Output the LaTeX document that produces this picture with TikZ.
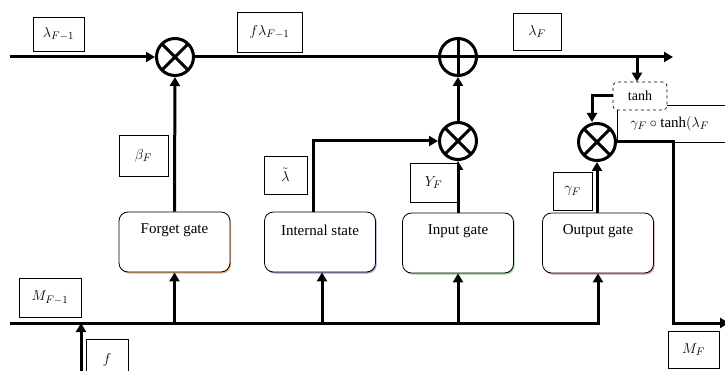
\documentclass[tikz,border=0pt]{standalone}
\usepackage{fontspec}
\setmainfont{Liberation Serif}
\usetikzlibrary{arrows.meta,shadows}
\begin{document}
\begin{tikzpicture}[x=1pt,y=-1pt,
  flow/.style={line width=3pt},
  arr/.style={flow,-{Triangle[length=9pt,width=10pt]}},
  op/.style={circle,draw,fill=white,line width=3pt,minimum size=37pt,inner sep=0pt},
  mult/.style={op,path picture={\draw[line width=3pt]
     (path picture bounding box.north west) -- (path picture bounding box.south east)
     (path picture bounding box.north east) -- (path picture bounding box.south west);}},
  addop/.style={op,path picture={\draw[line width=3pt]
     (path picture bounding box.north) -- (path picture bounding box.south)
     (path picture bounding box.west) -- (path picture bounding box.east);}},
  lbl/.style={draw,line width=0.7pt,fill=white,inner sep=0pt,font=\fontsize{15}{17}\selectfont},
  gate/.style={draw,line width=0.8pt,fill=white,rounded corners=9pt,minimum width=111pt,minimum height=60pt,inner sep=0pt},
  gatetext/.style={font=\fontsize{15}{17}\selectfont,inner sep=1pt},
  gshadow/.style={drop shadow={shadow xshift=1.2pt,shadow yshift=-1.5pt,fill=#1,opacity=0.6}},
]
\useasboundingbox (0,0) rectangle (725,371);
\clip (0,0) rectangle (725,371);

% operators on the memory path
\node[mult]  (mul1) at (175,57) {};
\node[addop] (plus) at (458,57) {};
\node[mult]  (mul2) at (458,141) {};

% output product with tanh and its label box
\node[lbl,anchor=north west,minimum width=130pt,minimum height=37pt,text width=104pt,align=left,inner xsep=13pt] (gbox) at (617,105) {$\gamma_F\circ\tanh(\lambda_F$};
\node[lbl,dashed,rounded corners=4pt,minimum width=54pt,minimum height=28pt,font=\fontsize{14}{16}\selectfont] (tanh) at (640,96) {tanh};
\node[mult] (mul3) at (597,142) {};

% gates
\node[gate,gshadow=orange!70!brown] (fg) at (174.5,242) {};
\node[gate,gshadow=blue!40!gray] (is) at (320,242) {};
\node[gate,gshadow=green!40!gray] (ig) at (458,243) {};
\node[gate,gshadow=red!40!gray] (og) at (598,243) {};
\node[gatetext] (fgt) at ([yshift=12pt]fg.center) {Forget gate};
\node[gatetext] (ist) at ([yshift=12pt]is.center) {Internal state};
\node[gatetext] (igt) at ([yshift=12pt]ig.center) {Input gate};
\node[gatetext] (ogt) at ([yshift=12pt]og.center) {Output gate};

% end points of the main lines
\coordinate (inL) at (10,57);
\coordinate (outT) at (673,57);
\coordinate (brT) at (637,57);
\coordinate (bl) at (10,323);
\coordinate (oc) at (673,323);
\coordinate (outM) at (729,323);
\coordinate (fin) at (81,371);
\coordinate (fj) at (81,323);

% memory line
\draw[arr] (inL) -- (mul1);
\draw[flow] (mul1) -- (plus);
\draw[arr] (plus) -- (outT);
\draw[arr] (brT) -- (brT |- tanh.north);
\draw[arr] (tanh.west) -| ([xshift=-5pt]mul3.north);
\draw[arr] (mul2) -- (plus);

% hidden line and gate inputs
\draw[arr] (bl) -| (og.south);
\draw[arr] (fg.south |- bl) -- (fg.south);
\draw[arr] ([xshift=2pt]is.south |- bl) -- ([xshift=2pt]is.south);
\draw[arr] (ig.south |- bl) -- (ig.south);
\draw[arr] (fin) -- (fj);

% gate outputs
\draw[arr] (fg.north) -- (mul1);
\draw[arr] ([xshift=-7pt]is.north) |- (mul2);
\draw[arr] (ig.north) -- (mul2);
\draw[arr] (og.north -| mul3) -- (mul3);
\draw[arr] (mul3.east) -| (oc) -- (outM);

% signal labels
\node[lbl,minimum width=51pt,minimum height=34pt] (l1) at (58.5,34) {$\lambda_{F-1}$};
\node[lbl,minimum width=65pt,minimum height=40pt] (l2) at (269.5,32) {$f\lambda_{F-1}$};
\node[lbl,minimum width=48pt,minimum height=37pt] (l3) at (537,31.5) {$\lambda_F$};
\node[lbl,minimum width=49pt,minimum height=41pt] (l4) at (143.5,155.5) {$\beta_F$};
\node[lbl,minimum width=43pt,minimum height=38pt] (l5) at (285.5,175) {$\tilde{\lambda}$};
\node[lbl,minimum width=47pt,minimum height=39pt] (l6) at (433.5,182.5) {$Y_F$};
\node[lbl,minimum width=39pt,minimum height=38pt] (l7) at (572.5,191) {$\gamma_F$};
\node[lbl,minimum width=62pt,minimum height=39pt] (l8) at (50,297.5) {$M_{F-1}$};
\node[lbl,minimum width=42pt,minimum height=42pt] (l9) at (107,360) {$f$};
\node[lbl,minimum width=51pt,minimum height=37pt] (l10) at (693.5,349.5) {$M_F$};
\end{tikzpicture}
\end{document}
